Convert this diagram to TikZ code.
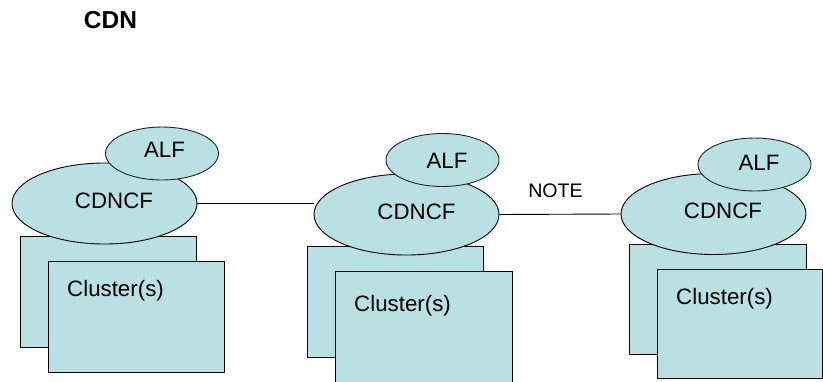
\documentclass[tikz,border=0pt]{standalone}
\usepackage{fontspec}
\setmainfont{Liberation Sans}
\usetikzlibrary{shapes.geometric}

\definecolor{cdnfill}{RGB}{185,224,227}

\tikzset{
  box/.style={draw, fill=cdnfill, line width=0.9pt, anchor=north west, inner sep=0},
  cf/.style={ellipse, draw, fill=cdnfill, line width=0.9pt, minimum width=185, minimum height=81, inner sep=0},
  alf/.style={ellipse, draw=black!85, fill=cdnfill, line width=0.9pt, minimum width=113, minimum height=53, inner sep=0},
  txt/.style={font=\fontsize{22.3}{26}\selectfont, inner sep=0},
  link/.style={line width=0.9pt},
}

\begin{document}
\begin{tikzpicture}[x=1pt, y=-1pt]
    \useasboundingbox (0,0) rectangle (823,381);

    % Title
    \node[font=\bfseries\fontsize{24.5}{28}\selectfont, inner sep=0] (title) at (110.5,20.5) {CDN};

    % Left CDN
    \node[box, minimum width=176, minimum height=111] (back1) at (20,236) {};
    \node[cf] (cf1) at (104.5,203.5) {};
    \node[alf] (alf1) at (162,153.5) {};
    \node[box, minimum width=176, minimum height=111] (front1) at (48,261) {};
    \node[txt] (cftext1) at (114,200.5) {CDNCF};
    \node[txt] (alftext1) at (164.5,150) {ALF};
    \node[txt, anchor=west] (cltext1) at (67,291) {Cluster(s)};

    % Middle CDN
    \node[box, minimum width=176, minimum height=111] (back2) at (307,246) {};
    \node[cf] (cf2) at (406.5,214.5) {};
    \node[alf] (alf2) at (442.5,160) {};
    \node[box, minimum width=177, minimum height=112] (front2) at (335,271) {};
    \node[txt] (cftext2) at (416.5,211.5) {CDNCF};
    \node[txt] (alftext2) at (447,160.5) {ALF};
    \node[txt, anchor=west] (cltext2) at (354,305.5) {Cluster(s)};

    % Right CDN
    \node[box, minimum width=177, minimum height=110] (back3) at (629,244) {};
    \node[cf] (cf3) at (713.5,214) {};
    \node[alf] (alf3) at (754.5,164.5) {};
    \node[box, minimum width=165, minimum height=109] (front3) at (657,269) {};
    \node[txt] (cftext3) at (723,210.5) {CDNCF};
    \node[txt] (alftext3) at (759,162.5) {ALF};
    \node[txt, anchor=west] (cltext3) at (676,298.5) {Cluster(s)};

    % Links
    \draw[link] (cf1.east) -- (cf1.east -| cf2.west);
    \draw[link] (cf2.east) -- (cf3.west)
        node[midway, above=13pt, xshift=-4.5pt, font=\fontsize{19.6}{23}\selectfont] (note) {NOTE};

\end{tikzpicture}
\end{document}
